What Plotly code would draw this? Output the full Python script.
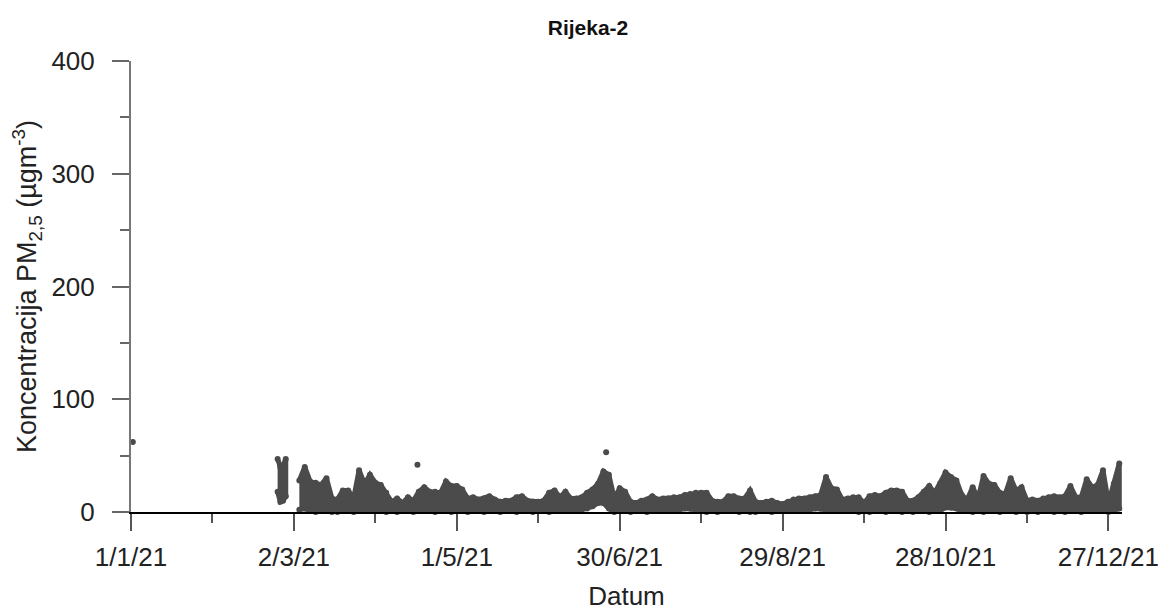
import pandas as pd
import plotly.graph_objects as go

# ---------------- data ----------------
# isolated single readings
spike_dates = ["2021-01-01 16:00", "2021-04-16 12:00", "2021-06-25 00:00"]
spike_vals = [62, 42, 53]

# late-February cluster (daily upper / lower envelope of hourly readings)
feb_dates = ["2021-02-24", "2021-02-25", "2021-02-26", "2021-02-27"]
feb_hi = [47, 40, 41, 47]
feb_lo = [18, 9, 10, 14]

# main record: upper / lower envelope for every two days from 4 March 2021
main_start = "2021-03-04"
main_hi = [
    28, 40, 27, 26, 24, 30, 12, 11, 19, 19,
    12, 37, 25, 33, 26, 24, 17, 9, 12, 8,
    13, 10, 18, 22, 18, 18, 17, 27, 23, 23,
    20, 12, 13, 11, 12, 14, 11, 9, 10, 10,
    13, 14, 10, 9, 9, 10, 17, 19, 13, 18,
    12, 12, 13, 17, 20, 25, 36, 33, 12, 21,
    18, 9, 8, 10, 11, 14, 11, 12, 12, 13,
    13, 15, 16, 17, 17, 17, 10, 9, 9, 14,
    14, 12, 12, 19, 9, 8, 9, 10, 8, 7,
    9, 11, 12, 12, 13, 14, 15, 31, 21, 20,
    11, 12, 13, 13, 8, 14, 15, 14, 17, 19,
    19, 18, 10, 10, 13, 18, 23, 17, 25, 35,
    31, 28, 15, 11, 22, 12, 32, 25, 24, 17,
    16, 30, 19, 22, 10, 11, 10, 12, 13, 14,
    13, 14, 23, 13, 13, 29, 22, 24, 37, 8,
    25, 43,
]
main_lo = [
    2, 3, 1, 0, 1, 2, 0, 0, 1, 1,
    0, 1, 2, 1, 2, 1, 0, 1, 0, 1,
    1, 0, 1, 2, 1, 0, 1, 1, 0, 1,
    1, 0, 1, 1, 0, 1, 1, 0, 1, 1,
    0, 1, 1, 0, 1, 1, 0, 1, 1, 1,
    1, 1, 2, 3, 5, 8, 8, 3, 0, 1,
    1, 0, 1, 1, 0, 1, 1, 1, 2, 2,
    2, 3, 3, 2, 1, 0, 1, 0, 1, 1,
    1, 0, 1, 0, 0, 1, 1, 0, 1, 1,
    1, 1, 2, 2, 2, 3, 3, 2, 1, 2,
    2, 1, 1, 0, 1, 0, 1, 1, 0, 1,
    1, 0, 1, 0, 1, 1, 0, 2, 1, 4,
    4, 3, 1, 1, 0, 1, 0, 1, 1, 0,
    1, 1, 0, 1, 0, 1, 0, 1, 1, 0,
    1, 0, 1, 1, 0, 1, 1, 2, 1, 0,
    2, 3,
]

x_tick_start = "2021-01-01"
x_range = ["2021-01-01", "2022-01-01"]
y_range = [0, 400]

# ---------------- build figure ----------------
MARK = "#4b4b4b"
FONT = "Liberation Sans, Arial, sans-serif"
DAY = 86400000
W, H = 1160, 606  # page adds an 8px body margin

groups = [
    (list(pd.to_datetime(feb_dates)), feb_hi, feb_lo),
    (list(pd.date_range(main_start, periods=len(main_hi), freq="2D")), main_hi, main_lo),
]

fig = go.Figure()
for dates, hi, lo in groups:
    # filled band between the lower and upper envelope
    fig.add_trace(go.Scatter(
        x=dates + dates[::-1], y=list(hi) + list(lo)[::-1],
        mode="lines", fill="toself", fillcolor=MARK,
        line=dict(color=MARK, width=5),
        cliponaxis=False, showlegend=False, hoverinfo="skip",
    ))
    # individual readings at the envelope edges
    fig.add_trace(go.Scatter(
        x=dates + dates, y=list(hi) + list(lo), mode="markers",
        marker=dict(color=MARK, size=6),
        cliponaxis=False, showlegend=False, hoverinfo="skip",
    ))

fig.add_trace(go.Scatter(
    x=pd.to_datetime(spike_dates), y=spike_vals, mode="markers",
    marker=dict(color=MARK, size=6),
    cliponaxis=False, showlegend=False,
))

fig.update_layout(
    width=W, height=H,
    margin=dict(l=123, r=46, t=53, b=102),
    paper_bgcolor="white", plot_bgcolor="white",
    font=dict(family=FONT, size=26, color="#222222"),
    title=dict(text="<b>Rijeka-2</b>", x=0.5, xanchor="center",
               y=1 - 20 / H, yref="container", yanchor="middle",
               font=dict(size=21, color="#111111")),
    xaxis=dict(
        type="date", range=x_range, automargin=False,
        tick0=x_tick_start, dtick=60 * DAY, tickformat="%-d/%-m/%y",
        ticks="outside", ticklen=17, tickwidth=1.5, tickcolor="#555555",
        ticklabelstandoff=4,
        minor=dict(tick0=x_tick_start, dtick=30 * DAY, ticks="outside",
                   ticklen=9, tickwidth=1.5, tickcolor="#555555"),
        showline=True, linecolor="#000000", linewidth=1.5,
        showgrid=False, zeroline=False,
        title=dict(text="Datum", standoff=16, font=dict(size=26)),
        tickfont=dict(size=26),
    ),
    yaxis=dict(
        range=y_range, dtick=100, tick0=0, automargin=False,
        ticks="outside", ticklen=17, tickwidth=1.5, tickcolor="#666666",
        ticklabelstandoff=12,
        minor=dict(dtick=50, ticks="outside", ticklen=9, tickwidth=1.5,
                   tickcolor="#666666"),
        showline=True, linecolor="#777777", linewidth=2,
        showgrid=False, zeroline=False,
        title=dict(text="Koncentracija PM<sub>2,5</sub> (µgm<sup>-3</sup>)",
                   standoff=7, font=dict(size=27)),
        tickfont=dict(size=26),
    ),
)

fig.write_html("out.html")
